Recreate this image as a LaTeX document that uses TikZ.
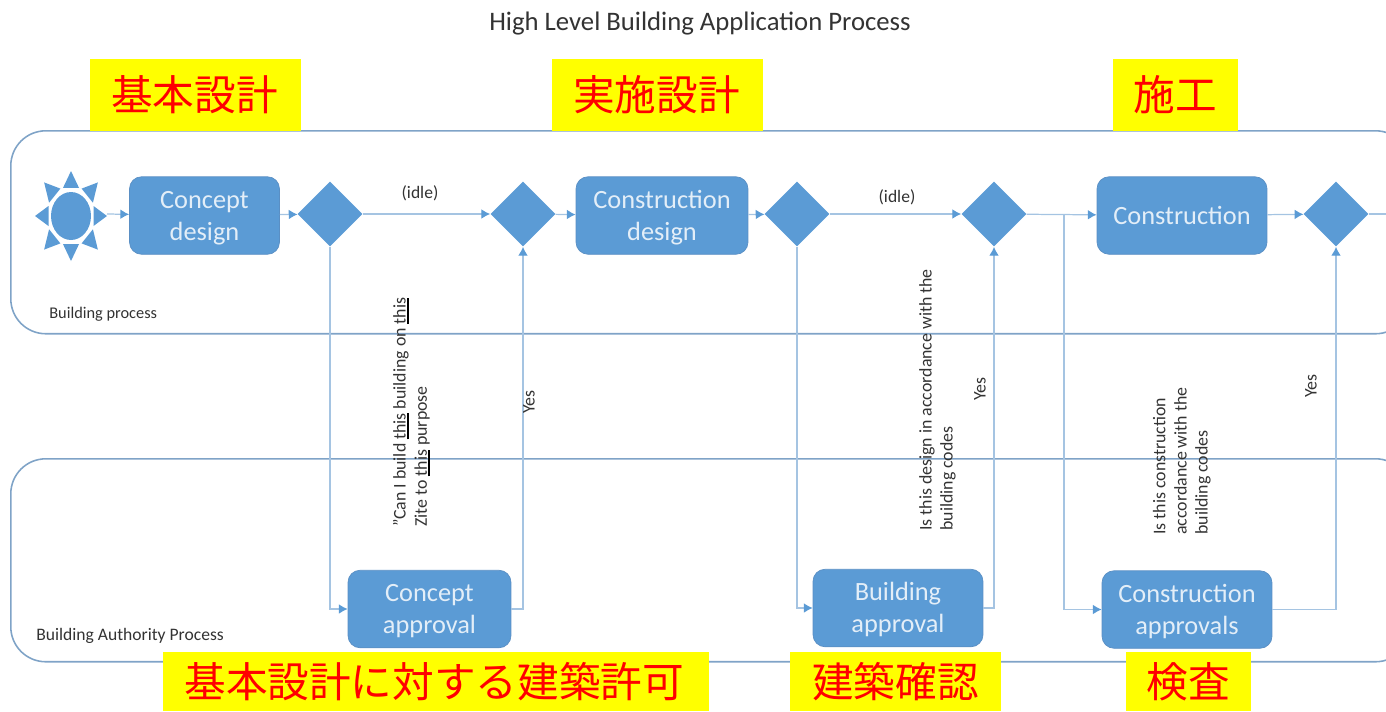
\documentclass[tikz,border=0pt]{standalone}
\usepackage{fontspec}
\setmainfont{Carlito}
\newfontfamily\cjk{Noto Sans CJK JP}
\usetikzlibrary{shapes.geometric,arrows.meta}
\definecolor{boxblue}{HTML}{5B9BD5}
\definecolor{boxedge}{HTML}{5A8FC4}
\definecolor{laneblue}{HTML}{7FA3C7}
\definecolor{flowblue}{HTML}{A5C4E2}
\definecolor{boxtext}{HTML}{E3EEF8}
\definecolor{notegrey}{HTML}{333333}
\definecolor{stageyellow}{HTML}{FFFF00}
\definecolor{stagered}{HTML}{FF0000}
\newcommand{\boxlines}[2]{\raisebox{-1.4pt}[\height][\depth]{\begin{tabular}{@{}c@{}}#1\\#2\end{tabular}}}
\newcommand{\markword}[1]{\sbox0{#1}\rlap{\color{black}\rule[-1.6pt]{\wd0}{0.8pt}}\box0\relax}
\tikzset{
  lane/.style={draw=laneblue,line width=0.9pt,rounded corners=0.7cm,inner sep=0pt},
  task/.style={draw=boxedge,fill=boxblue,rounded corners=0.24cm,inner sep=0pt,align=center,text=boxtext,font=\fontsize{15}{18}\selectfont,minimum height=1.55cm},
  gate/.style={diamond,fill=boxblue,inner sep=0pt,minimum width=1.3cm,minimum height=1.3cm},
  flow/.style={draw=flowblue,line width=0.7pt},
  arrowflow/.style={flow,-{Latex[length=5pt,width=5.5pt,color=boxblue]}},
  stage/.style={fill=stageyellow,text=stagered,inner sep=0pt,font=\cjk\fontsize{23.7}{26}\selectfont},
  note/.style={text=notegrey,font=\fontsize{10}{12}\selectfont,inner sep=0pt},
  vnote/.style={note,font=\fontsize{10.15}{12}\selectfont,rotate=90,align=left}
}
\begin{document}
\begin{tikzpicture}[x=0.02cm,y=-0.02cm]
   \useasboundingbox (0,0) rectangle (1386,711);
   \clip (0,0) rectangle (1386,711);

   \node[lane,minimum width=28cm,minimum height=4.06cm,anchor=north west] (buildinglane) at (10,130) {};
   \node[lane,minimum width=28cm,minimum height=4.06cm,anchor=north west] (authoritylane) at (10,458) {};

   \node[ellipse,fill=boxblue,inner sep=0pt,minimum width=0.8cm,minimum height=0.96cm] (sun) at (71,216) {};
   \begin{scope}[shift={(sun.center)},yscale=1.25]
    \foreach \a in {0,90,180,270}
      \fill[boxblue,rotate=\a] (22.5,-8) -- (36,0) -- (22.5,8) -- cycle;
    \foreach \a in {45,135,225,315}
      \fill[boxblue,rotate=\a] (23,-8) -- (38,0) -- (23,8) -- cycle;
   \end{scope}

   \node[task,minimum width=3cm] (conceptdesign) at (204.5,215.5) {\boxlines{Concept}{design}};
   \node[gate] (gatea) at (330,214) {};
   \node[gate] (gateb) at (523,214) {};
   \node[task,minimum width=3.44cm] (constructiondesign) at (662,215.5) {\boxlines{Construction}{design}};
   \node[gate] (gatec) at (797,214) {};
   \node[gate] (gated) at (994,214) {};
   \node[task,minimum width=3.4cm] (construction) at (1182,215.5) {Construction};
   \node[gate] (gatee) at (1336,214) {};
   \node[task,minimum width=3.26cm] (conceptapproval) at (429.5,609) {\boxlines{Concept}{approval}};
   \node[task,minimum width=3.4cm] (buildingapproval) at (898,608) {\boxlines{Building}{approval}};
   \node[task,minimum width=3.4cm] (constructionapprovals) at (1187,609.5) {\boxlines{Construction}{approvals}};

   \coordinate (branch) at (1064,214);
   \coordinate (offpage) at (1386,214);

   \draw[arrowflow] (107,214) -- (conceptdesign);
   \draw[arrowflow] (conceptdesign) -- (gatea);
   \draw[arrowflow] (gatea) -- (gateb);
   \draw[arrowflow] (gateb) -- (constructiondesign);
   \draw[arrowflow] (constructiondesign) -- (gatec);
   \draw[arrowflow] (gatec) -- (gated);
   \draw[arrowflow] (gated) -- (construction);
   \draw[arrowflow] (construction) -- (gatee);
   \draw[flow] (gatee) -- (offpage);
   \draw[arrowflow] (gatea) |- (conceptapproval);
   \draw[arrowflow] (conceptapproval) -| (gateb);
   \draw[arrowflow] (gatec) |- (buildingapproval);
   \draw[arrowflow] (buildingapproval) -| (gated);
   \draw[arrowflow] (branch) |- (constructionapprovals);
   \draw[arrowflow] (constructionapprovals) -| (gatee);

   \node[font=\fontsize{15.2}{17}\selectfont,text=notegrey,inner sep=0pt] (title) at (700,24) {High Level Building Application Process};

   \node[stage,minimum width=4.22cm,minimum height=1.44cm] (stagea) at (195.5,95) {\hspace{-1pt}基本設計\hspace{1pt}};
   \node[stage,minimum width=4.22cm,minimum height=1.44cm] (stageb) at (657.5,95) {\hspace{-1pt}実施設計\hspace{1pt}};
   \node[stage,minimum width=2.5cm,minimum height=1.44cm] (stagec) at (1175.5,95) {施工};
   \node[stage,minimum width=10.92cm,minimum height=1.18cm] (staged) at (436,681.5) {\hspace{-2pt}基本設計に対する建築許可\hspace{2pt}};
   \node[stage,minimum width=4.22cm,minimum height=1.18cm] (stagee) at (895.5,681.5) {建築確認};
   \node[stage,minimum width=2.5cm,minimum height=1.18cm] (stagef) at (1188.5,681.5) {検査};

   \node[note] (idlea) at (420,193) {(idle)};
   \node[note] (idleb) at (897,197) {(idle)};
   \node[note,font=\fontsize{9.3}{12}\selectfont,anchor=west] (buildinglabel) at (49,314) {Building process};
   \node[note,anchor=west] (authoritylabel) at (36,636) {Building Authority Process};

   \node[vnote,anchor=south west] (querya) at (430,527) {”Can I build \markword{this} building on \markword{this}\\Zite to \markword{this} purpose};
   \node[vnote] (yesa) at (529,402) {Yes};
   \node[vnote,anchor=south west] (queryb) at (956,531) {Is this design in accordance with the\\building codes};
   \node[vnote] (yesb) at (980,389) {Yes};
   \node[vnote,anchor=south west] (queryc) at (1211,535) {Is this construction\\accordance with the\\building codes};
   \node[vnote] (yesc) at (1311,386) {Yes};
\end{tikzpicture}
\end{document}
